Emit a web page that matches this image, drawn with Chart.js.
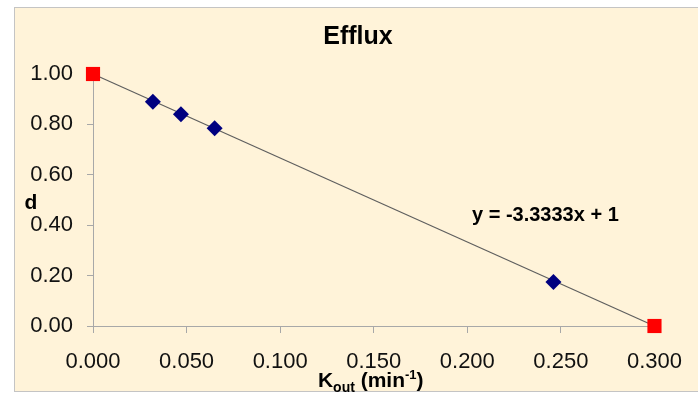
<!DOCTYPE html>
<html>
<head>
<meta charset="utf-8">
<script src="https://cdn.jsdelivr.net/npm/chart.js@4/dist/chart.umd.min.js"></script>
<style>
  html, body { margin: 0; padding: 0; background: #fff; }
  #wrap { width: 698px; height: 393px; }
</style>
</head>
<body>
<div id="wrap"><canvas id="effluxChart" width="698" height="393"></canvas></div>
<script>
// measured points (Kout, d)
const koutValues = [0.032, 0.047, 0.065, 0.246];
const dValues = [0.89, 0.84, 0.785, 0.175];
// end points of the line
const endKout = [0, 0.3];
const endD = [1, 0];
// fitted line y = slope * x + intercept
const slope = -3.3333;
const intercept = 1;
const xTicks = [0, 0.05, 0.1, 0.15, 0.2, 0.25, 0.3];
const yTicks = [0, 0.2, 0.4, 0.6, 0.8, 1.0];

const FONT = "'Liberation Sans', Arial, sans-serif";
const AXIS_COLOR = '#a8a8a8';

const measured = koutValues.map((x, i) => ({ x: x, y: dValues[i] }));
const ends = endKout.map((x, i) => ({ x: x, y: endD[i] }));
const trend = endKout.map(x => ({ x: x, y: slope * x + intercept }));

// background, frame, title and the hand-placed labels
const decorations = {
    id: 'decorations',
    beforeDraw(chart) {
        const ctx = chart.ctx;
        ctx.save();
        ctx.fillStyle = '#ffffff';
        ctx.fillRect(0, 0, chart.width, chart.height);
        ctx.fillStyle = '#fff3d9';
        ctx.fillRect(14, 7, chart.width - 14, chart.height - 8);
        ctx.strokeStyle = '#c4c4c4';
        ctx.lineWidth = 1;
        ctx.strokeRect(14.5, 7.5, chart.width + 10, chart.height - 9);
        ctx.restore();
    },
    afterDraw(chart) {
        const ctx = chart.ctx;
        const area = chart.chartArea;
        const xs = chart.scales.x;
        const ys = chart.scales.y;
        ctx.save();
        ctx.fillStyle = '#000';

        // title
        ctx.font = 'bold 25px ' + FONT;
        ctx.textAlign = 'center';
        ctx.textBaseline = 'middle';
        ctx.fillText('Efflux', 358, 37);

        // y axis title
        ctx.font = 'bold 21px ' + FONT;
        ctx.fillText('d', 31, (area.top + area.bottom) / 2 + 3);

        // x axis title with subscript / superscript
        const parts = [
            { t: 'K', size: 21, dy: 0 },
            { t: 'out', size: 14, dy: 5 },
            { t: ' (min', size: 21, dy: 0 },
            { t: '-1', size: 13, dy: -8 },
            { t: ')', size: 21, dy: 0 }
        ];
        let total = 0;
        parts.forEach(p => {
            ctx.font = 'bold ' + p.size + 'px ' + FONT;
            p.w = ctx.measureText(p.t).width;
            total += p.w;
        });
        let px = (area.left + area.right) / 2 - total / 2 - 3;
        const base = 387;
        ctx.textAlign = 'left';
        ctx.textBaseline = 'alphabetic';
        parts.forEach(p => {
            ctx.font = 'bold ' + p.size + 'px ' + FONT;
            ctx.fillText(p.t, px, base + p.dy);
            px += p.w;
        });

        // trendline equation
        ctx.font = 'bold 20px ' + FONT;
        ctx.textBaseline = 'middle';
        const eq = 'y = -' + Math.abs(slope).toFixed(4) + 'x + ' + intercept;
        ctx.fillText(eq, xs.getPixelForValue(0.2025), ys.getPixelForValue(0.44));
        ctx.restore();
    }
};

const ctx = document.getElementById('effluxChart').getContext('2d');
new Chart(ctx, {
    type: 'scatter',
    data: {
        datasets: [
            {
                label: 'ends',
                data: ends,
                clip: false,
                pointStyle: 'rect',
                pointRadius: 10,
                backgroundColor: '#ff0000',
                borderColor: '#ff0000',
                borderWidth: 0
            },
            {
                label: 'measured',
                data: measured,
                clip: false,
                pointStyle: 'rectRot',
                pointRadius: 8,
                backgroundColor: '#000080',
                borderColor: '#000080',
                borderWidth: 0
            },
            {
                label: 'trend',
                data: trend,
                clip: false,
                showLine: true,
                pointRadius: 0,
                borderColor: '#5e5e5e',
                borderWidth: 1.2
            }
        ]
    },
    options: {
        responsive: false,
        animation: false,
        layout: {
            padding: { left: 0, right: 42, top: 74, bottom: 0 }
        },
        scales: {
            x: {
                type: 'linear',
                min: 0,
                max: 0.3,
                afterBuildTicks: scale => { scale.ticks = xTicks.map(v => ({ value: v })); },
                afterFit: scale => { scale.height = 67; },
                border: { color: AXIS_COLOR, width: 1 },
                grid: { drawOnChartArea: false, drawTicks: true, tickLength: 7, color: AXIS_COLOR },
                ticks: {
                    padding: 16,
                    maxRotation: 0,
                    color: '#111',
                    font: { family: FONT, size: 22 },
                    callback: v => Number(v).toFixed(3)
                }
            },
            y: {
                type: 'linear',
                min: 0,
                max: 1,
                afterBuildTicks: scale => { scale.ticks = yTicks.map(v => ({ value: v })); },
                afterFit: scale => { scale.width = 93; },
                border: { color: AXIS_COLOR, width: 1 },
                grid: { drawOnChartArea: false, drawTicks: true, tickLength: 6, color: AXIS_COLOR },
                ticks: {
                    padding: 14,
                    color: '#111',
                    font: { family: FONT, size: 22 },
                    callback: v => Number(v).toFixed(2)
                }
            }
        },
        plugins: {
            legend: { display: false },
            tooltip: { enabled: false },
            title: { display: false }
        }
    },
    plugins: [decorations]
});
</script>
</body>
</html>
